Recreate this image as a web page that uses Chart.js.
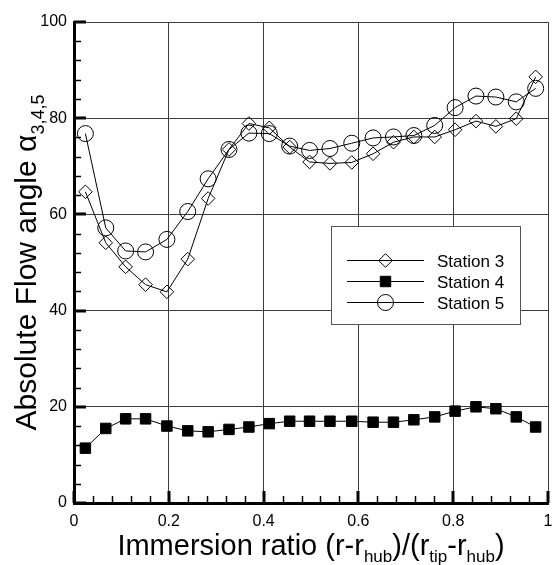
<!DOCTYPE html>
<html><head><meta charset="utf-8">
<script src="https://cdn.jsdelivr.net/npm/chart.js@4"></script>
<style>html,body{margin:0;padding:0;background:#fff;}#wrap{width:557px;height:565px;position:relative;}</style>
</head><body><div id="wrap"><canvas id="c" width="557" height="565"></canvas></div>
<script>
// ---- data ----
const immersionRatio = [0.024, 0.067, 0.109, 0.151, 0.196, 0.240, 0.283, 0.327, 0.369, 0.412, 0.455, 0.497,
                        0.540, 0.586, 0.631, 0.674, 0.717, 0.761, 0.804, 0.848, 0.890, 0.933, 0.974];
const station3 = [64.7, 54.1, 49.1, 45.4, 43.9, 50.7, 63.3, 73.5, 78.9, 78.0, 74.0, 70.9,
                  70.6, 70.8, 72.6, 75.0, 76.1, 76.1, 77.6, 79.4, 78.3, 79.9, 88.6];
const station4 = [11.4, 15.5, 17.5, 17.5, 16.0, 15.0, 14.8, 15.3, 15.8, 16.5, 17.0, 17.0,
                  17.0, 17.0, 16.8, 16.8, 17.3, 17.9, 19.1, 20.0, 19.6, 17.9, 15.8];
const station5 = [76.8, 57.2, 52.4, 52.2, 54.8, 60.6, 67.4, 73.5, 76.9, 76.8, 74.2, 73.3,
                  73.7, 74.8, 75.9, 76.1, 76.4, 78.5, 82.2, 84.6, 84.4, 83.4, 86.2];
const seriesNames = ['Station 3', 'Station 4', 'Station 5'];
const xTickLabels = ['0', '0.2', '0.4', '0.6', '0.8', '1'];
const yTickLabels = ['0', '20', '40', '60', '80', '100'];
const xTitleParts = [['Immersion ratio (r-r', 0], ['hub', 1], [')/(r', 0], ['tip', 1], ['-r', 0], ['hub', 1], [')', 0]];
const yTitleParts = [['Absolute Flow angle \u03B1', 0], ['3,4,5', 1]];

const FONT = "'Liberation Sans', Arial, sans-serif";
const toPts = ys => ys.map((y, i) => ({ x: immersionRatio[i], y }));
const markers = [
  { style: 'rectRot', r: 6.8, fill: 'rgba(0,0,0,0)' },
  { style: 'rect', r: 7.4, fill: '#000' },
  { style: 'circle', r: 8, fill: 'rgba(0,0,0,0)' }
];
const seriesData = [station3, station4, station5];

const gridColor = ctx => (ctx.tick && ctx.tick.value === 0) ? 'rgba(0,0,0,0)' : '#3c3c3c';

const ticksPlugin = {
  id: 'innerTicks',
  beforeDatasetsDraw(chart) {
    const { ctx, chartArea: a, scales: { x, y } } = chart;
    ctx.save();
    ctx.strokeStyle = '#000';
    // minor ticks
    ctx.lineWidth = 1.5;
    for (let k = 0; k <= 25; k++) {
      if (k % 5 === 0) continue;
      const px = Math.round(x.getPixelForValue(k * 0.04)) + 0.5;
      ctx.beginPath(); ctx.moveTo(px, a.bottom); ctx.lineTo(px, a.bottom - 7); ctx.stroke();
      const py = Math.round(y.getPixelForValue(k * 4)) + 0.5;
      ctx.beginPath(); ctx.moveTo(a.left, py); ctx.lineTo(a.left + 7, py); ctx.stroke();
    }
    // major ticks
    ctx.lineWidth = 3;
    for (let k = 0; k <= 5; k++) {
      const px = Math.round(x.getPixelForValue(k * 0.2));
      ctx.beginPath(); ctx.moveTo(px, a.bottom); ctx.lineTo(px, a.bottom - 12); ctx.stroke();
      const py = Math.round(y.getPixelForValue(k * 20));
      ctx.beginPath(); ctx.moveTo(a.left, py); ctx.lineTo(a.left + 12, py); ctx.stroke();
    }
    ctx.restore();
  }
};

function drawMarker(ctx, m, cx, cy) {
  ctx.beginPath();
  if (m.style === 'rectRot') {
    ctx.moveTo(cx - m.r, cy); ctx.lineTo(cx, cy - m.r); ctx.lineTo(cx + m.r, cy); ctx.lineTo(cx, cy + m.r); ctx.closePath();
  } else if (m.style === 'rect') {
    const s = m.r * Math.SQRT1_2; ctx.rect(cx - s, cy - s, 2 * s, 2 * s);
  } else {
    ctx.arc(cx, cy, m.r, 0, Math.PI * 2);
  }
  ctx.fillStyle = m.fill; ctx.fill();
  ctx.lineWidth = 1; ctx.strokeStyle = '#000'; ctx.stroke();
}

const legendPlugin = {
  id: 'boxLegend',
  afterDatasetsDraw(chart) {
    const ctx = chart.ctx;
    ctx.save();
    ctx.fillStyle = '#fff';
    ctx.fillRect(331, 226, 189, 98);
    ctx.strokeStyle = '#555'; ctx.lineWidth = 1;
    ctx.strokeRect(331.5, 226.5, 189, 98);
    const rows = [260.5, 281.5, 302.5];
    seriesNames.forEach((name, i) => {
      const yy = rows[i];
      ctx.strokeStyle = '#000'; ctx.lineWidth = 1;
      ctx.beginPath(); ctx.moveTo(347, yy); ctx.lineTo(424, yy); ctx.stroke();
      drawMarker(ctx, markers[i], 385.5, yy);
      ctx.fillStyle = '#000';
      ctx.font = '17px ' + FONT;
      ctx.textBaseline = 'alphabetic'; ctx.textAlign = 'left';
      ctx.fillText(name, 437, yy + 6);
    });
    ctx.restore();
  }
};

function drawParts(ctx, parts, x0, base, main, sub, drop) {
  let x = x0;
  parts.forEach(([t, s]) => {
    ctx.font = (s ? sub : main) + 'px ' + FONT;
    ctx.fillText(t, x, base + (s ? drop : 0));
    x += ctx.measureText(t).width;
  });
}
function partsWidth(ctx, parts, main, sub) {
  let w = 0;
  parts.forEach(([t, s]) => { ctx.font = (s ? sub : main) + 'px ' + FONT; w += ctx.measureText(t).width; });
  return w;
}

const titlePlugin = {
  id: 'axisTitles',
  afterDraw(chart) {
    const { ctx, chartArea: a } = chart;
    ctx.save();
    ctx.fillStyle = '#000'; ctx.textAlign = 'left'; ctx.textBaseline = 'alphabetic';
    const cx = (a.left + a.right) / 2;
    const wx = partsWidth(ctx, xTitleParts, 29, 17);
    drawParts(ctx, xTitleParts, cx - wx / 2, 555, 29, 17, 7);
    const cy = (a.top + a.bottom) / 2;
    ctx.translate(36, cy);
    ctx.rotate(-Math.PI / 2);
    const wy = partsWidth(ctx, yTitleParts, 30, 18);
    drawParts(ctx, yTitleParts, -wy / 2, 0, 30, 18, 8);
    ctx.restore();
  }
};

new Chart(document.getElementById('c'), {
  type: 'line',
  data: {
    datasets: seriesData.map((d, i) => ({
      label: seriesNames[i],
      data: toPts(d),
      borderColor: '#000',
      borderWidth: 1,
      tension: 0,
      fill: false,
      pointStyle: markers[i].style,
      pointRadius: markers[i].r,
      pointBackgroundColor: markers[i].fill,
      pointBorderColor: '#000',
      pointBorderWidth: 1,
      pointHoverRadius: markers[i].r
    }))
  },
  options: {
    responsive: false,
    devicePixelRatio: 1,
    animation: false,
    layout: { padding: { top: 22, right: 1, left: 0, bottom: 0 } },
    plugins: { legend: { display: false }, tooltip: { enabled: false } },
    scales: {
      x: {
        type: 'linear', min: 0, max: 1,
        grid: { color: gridColor, lineWidth: 1, drawTicks: false },
        border: { display: true, color: '#000', width: 3 },
        ticks: {
          stepSize: 0.2, autoSkip: false, maxRotation: 0, padding: 9, color: '#000',
          font: { family: FONT, size: 16 },
          callback: (v) => xTickLabels[Math.round(v / 0.2)]
        },
        afterFit: s => { s.height = 62; s.paddingLeft = 0; s.paddingRight = 0; }
      },
      y: {
        type: 'linear', min: 0, max: 100,
        grid: { color: gridColor, lineWidth: 1, drawTicks: false },
        border: { display: true, color: '#000', width: 3 },
        ticks: {
          stepSize: 20, padding: 7, color: '#000',
          font: { family: FONT, size: 16 },
          callback: (v) => yTickLabels[Math.round(v / 20)]
        },
        afterFit: s => { s.width = 74; s.paddingTop = 0; s.paddingBottom = 0; }
      }
    }
  },
  plugins: [ticksPlugin, legendPlugin, titlePlugin]
});
</script>
</body></html>
